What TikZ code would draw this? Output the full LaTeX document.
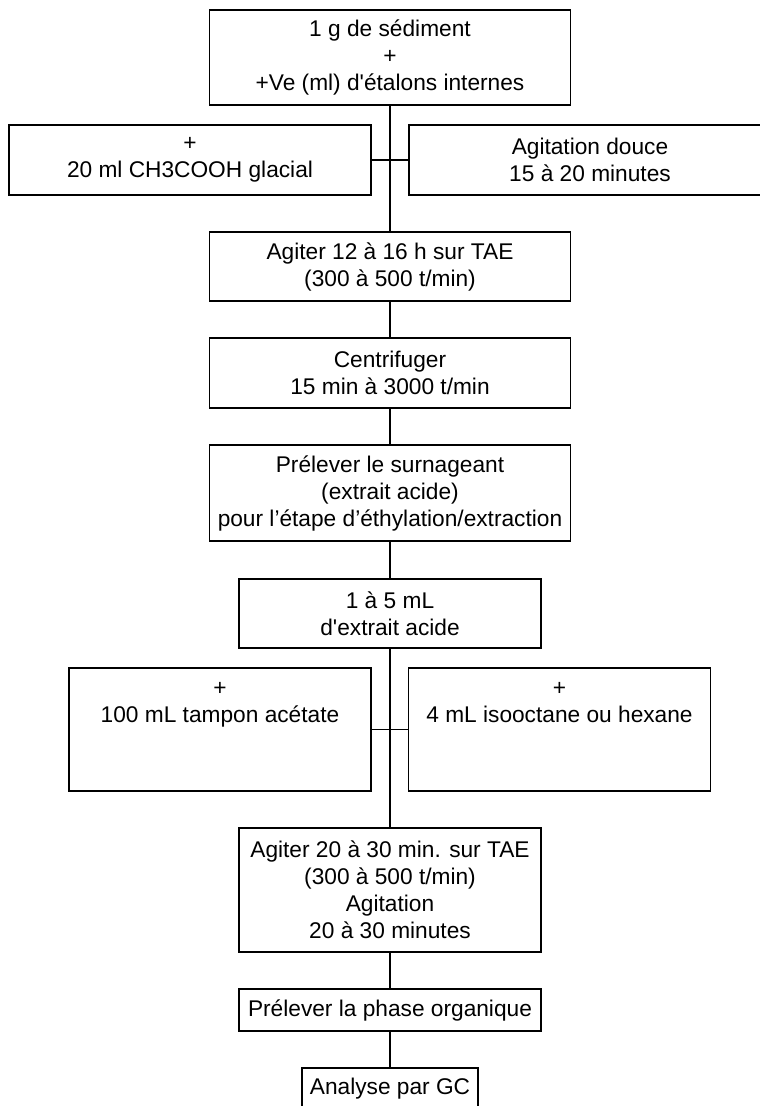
\documentclass[tikz,border=0pt]{standalone}
\usepackage{fontspec}
\setmainfont{Liberation Sans}
\begin{document}
\begin{tikzpicture}[x=1pt,y=-1pt,
  stepbox/.style={draw, line width=1.3pt, inner sep=0pt, align=center,
    font=\fontsize{22.7}{27}\selectfont},
  conn/.style={line width=1.3pt}]
\useasboundingbox (0,0) rectangle (760,1106);
\clip (0,0) rectangle (760,1106);
\node[stepbox, minimum width=361pt, minimum height=95pt] (b1) at (390,57.5)
  {1 g de sédiment\\+\\+Ve (ml) d\textquotesingle étalons internes};
\node[stepbox, minimum width=362pt, minimum height=70pt] (a) at (190,160)
  {+\\20 ml CH3COOH glacial};
\node[stepbox, minimum width=362pt, minimum height=70pt] (bb) at (590,160)
  {Agitation douce\\15 à 20 minutes};
\node[stepbox, minimum width=361pt, minimum height=69pt] (b3) at (390,266.5)
  {Agiter 12 à 16 h sur TAE\\(300 à 500 t/min)};
\node[stepbox, minimum width=361pt, minimum height=70pt] (b4) at (390,373)
  {Centrifuger\\15 min à 3000 t/min};
\node[stepbox, minimum width=361pt, minimum height=96pt] (b5) at (390,493)
  {Prélever le surnageant\\(extrait acide)\\pour l’étape d’éthylation/extraction};
\node[stepbox, minimum width=302pt, minimum height=69pt] (b6) at (390,613.5)
  {1 à 5 mL\\d\textquotesingle extrait acide};
\node[stepbox, minimum width=302pt, minimum height=123pt] (c) at (220,729.5)
  {+\\100 mL tampon acétate\\\phantom{+}\\\phantom{+}};
\node[stepbox, minimum width=302pt, minimum height=123pt] (d) at (559.5,729.5)
  {+\\4 mL isooctane ou hexane\\\phantom{+}\\\phantom{+}};
\node[stepbox, minimum width=302pt, minimum height=124pt] (b7) at (390,890)
  {Agiter 20 à 30 min. sur TAE\\(300 à 500 t/min)\\Agitation\\20 à 30 minutes};
\node[stepbox, minimum width=302pt, minimum height=42pt] (b8) at (390,1010)
  {Prélever la phase organique};
\node[stepbox, minimum width=176pt, minimum height=42pt] (b9) at (390,1089)
  {Analyse par GC};
\draw[conn] (b1.south) -- (b3.north);
\draw[conn] (a.east) -- (bb.west);
\draw[conn] (b3.south) -- (b4.north);
\draw[conn] (b4.south) -- (b5.north);
\draw[conn] (b5.south) -- (b6.north);
\draw[conn] (b6.south) -- (b7.north);
\draw[conn] (c.east) -- (d.west);
\draw[conn] (b7.south) -- (b8.north);
\draw[conn] (b8.south) -- (b9.north);
\end{tikzpicture}
\end{document}
